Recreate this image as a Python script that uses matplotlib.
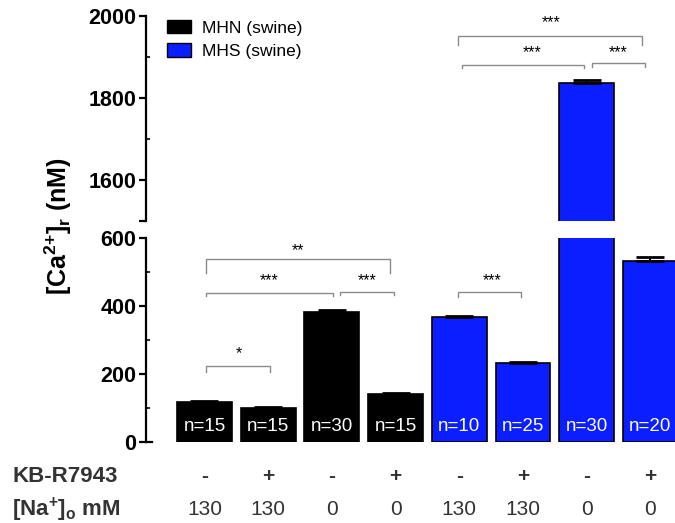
import matplotlib
matplotlib.use('Agg')
import matplotlib.pyplot as plt
from matplotlib.patches import Patch
import numpy as np

plt.rcParams['font.family'] = ['Liberation Sans', 'DejaVu Sans']
plt.rcParams['mathtext.default'] = 'regular'

# ── Data ──────────────────────────────────────────────────────
groups   = ["MHN (swine)", "MHS (swine)"]
means    = [117, 99, 383, 141, 368, 233, 1836, 532]
sems     = [3, 3, 4, 3, 4, 3, 9, 11]
n_labels = ["n=15", "n=15", "n=30", "n=15", "n=10", "n=25", "n=30", "n=20"]
kb_row   = ["-", "+", "-", "+", "-", "+", "-", "+"]
na_row   = ["130", "130", "0", "0", "130", "130", "0", "0"]
group_of = [0, 0, 0, 0, 1, 1, 1, 1]

# significance brackets: (x1, x2, y, leg_left, leg_right, label, text_x, text_y)
low_sig = [
    (0.02, 1.03, 223, 16, 16, "*",   0.54, 259),
    (0.02, 2.02, 439, 9, 9,   "***", 1.02, 474),
    (0.02, 2.92, 538, 40, 40, "**",  1.47, 562),
    (2.12, 2.98, 442, 9, 9,   "***", 2.55, 474),
    (3.98, 4.97, 441, 15, 15, "***", 4.51, 474),
]
high_sig = [
    (3.98, 6.87, 1950, 20, 20, "***", 5.44, 1983),
    (4.04, 5.96, 1880, 7, 7,   "***", 5.14, 1911),
    (6.08, 6.92, 1885, 10, 10, "***", 6.50, 1911),
]

COLORS   = ['#000000', '#0A1EFF']
BRACKET  = '#8a8a8a'
LABEL_C  = '#333333'

x = np.arange(len(means))
W, H = 675, 523
fig = plt.figure(figsize=(W / 100, H / 100), dpi=100)

def fig_rect(px_left, px_right, px_top, px_bottom):
    return [px_left / W, 1 - px_bottom / H, (px_right - px_left) / W,
            (px_bottom - px_top) / H]

xl = (-0.918, 7.5)
ax_lo = fig.add_axes(fig_rect(146, 146 + (xl[1] - xl[0]) * 63.7, 238, 442))
ax_hi = fig.add_axes(fig_rect(146, 146 + (xl[1] - xl[0]) * 63.7, 16, 221))


def draw_bars(ax):
    cols = [COLORS[g] for g in group_of]
    ax.bar(x, means, width=0.86, color=cols, edgecolor='black', linewidth=1.2,
           zorder=2)
    ax.errorbar(x, means, yerr=[np.zeros(len(sems)), sems], fmt='none',
                ecolor='black', elinewidth=1.5, capsize=10, capthick=2, zorder=3)


def bracket(ax, x1, x2, y, l1, l2, label, tx, ty):
    ax.plot([x1, x1, x2, x2], [y - l1, y, y, y - l2], color=BRACKET, lw=1,
            solid_joinstyle='miter', clip_on=False)
    ax.text(tx, ty, label, ha='center', va='center', fontsize=11.5, color='black')


for ax in (ax_lo, ax_hi):
    draw_bars(ax)
    ax.set_xlim(*xl)
    ax.spines['top'].set_visible(False)
    ax.spines['right'].set_visible(False)
    ax.spines['left'].set_linewidth(1.6)
    ax.set_xticks([])
    ax.tick_params(axis='y', which='major', direction='out', length=5, width=1.6,
                   labelsize=15.5, pad=2)
    ax.tick_params(axis='y', which='minor', direction='in', length=3, width=1.2)

ax_hi.spines['bottom'].set_visible(False)
ax_lo.spines['bottom'].set_linewidth(1.6)
ax_lo.spines['bottom'].set_bounds(xl[0], xl[0] + 0.1)

ax_lo.set_ylim(0, 600)
ax_lo.set_yticks([0, 200, 400, 600])
ax_lo.set_yticks([100, 300, 500], minor=True)
ax_hi.set_ylim(1500, 2000)
ax_hi.set_yticks([1500, 1600, 1800, 2000])
ax_hi.set_yticklabels(["", "1600", "1800", "2000"])
ax_hi.set_yticks([1700, 1900], minor=True)
for ax in (ax_lo, ax_hi):
    for t in ax.get_yticklabels():
        t.set_fontweight('bold')

for sig in low_sig:
    bracket(ax_lo, *sig)
for sig in high_sig:
    bracket(ax_hi, *sig)

# n labels inside bars
for xi, lab in zip(x, n_labels):
    ax_lo.text(xi, 45, lab, ha='center', va='center', fontsize=13.5, color='white',
               zorder=4)

# condition rows under the bars
tr = ax_lo.get_xaxis_transform()
for xi, kb, na in zip(x, kb_row, na_row):
    ax_lo.text(xi, -0.17, kb, transform=tr, ha='center', va='center',
               fontsize=15, fontweight='bold', color=LABEL_C)
    ax_lo.text(xi, -0.333, na, transform=tr, ha='center', va='center',
               fontsize=15, color=LABEL_C)
fig.text(12 / W, 1 - 476.7 / H, "KB-R7943", ha='left', va='center',
         fontsize=16, fontweight='bold', color=LABEL_C)
fig.text(12 / W, 1 - 510 / H, "[Na$^{+}$]$_{o}$ mM", ha='left', va='center',
         fontsize=16, fontweight='bold', color=LABEL_C)

fig.text(58 / W, 1 - 226 / H, "[Ca$^{2{+}}$]$_{r}$ (nM)", rotation=90,
         ha='center', va='center', fontsize=18, fontweight='bold')

handles = [Patch(facecolor=c, edgecolor='black', linewidth=1) for c in COLORS]
ax_hi.legend(handles, groups, loc='upper left', bbox_to_anchor=(167 / W, 1 - 20 / H),
             bbox_transform=fig.transFigure, frameon=False, fontsize=12.5,
             handlelength=1.4, handleheight=0.8, handletextpad=0.6,
             labelspacing=0.45, borderpad=0, borderaxespad=0)

fig.savefig('out.png', dpi=100)
